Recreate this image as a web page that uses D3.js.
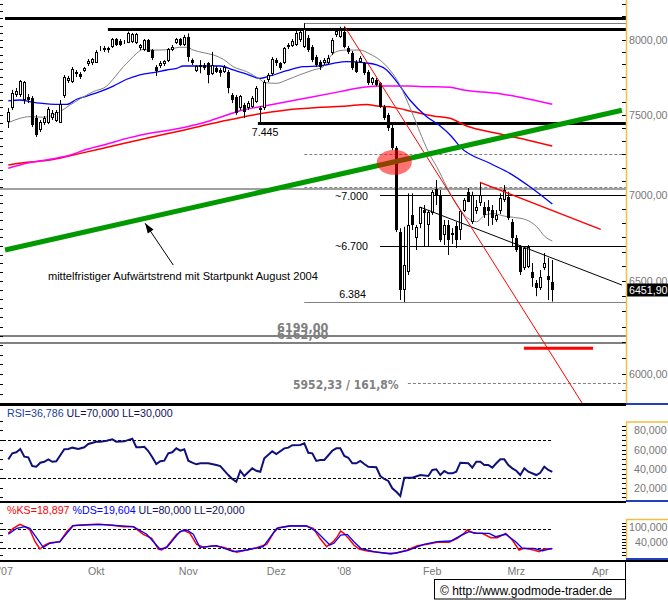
<!DOCTYPE html>
<html><head><meta charset="utf-8">
<script src="https://cdn.jsdelivr.net/npm/d3@7/dist/d3.min.js"></script>
<style>html,body{margin:0;padding:0;background:#fff;} svg{display:block;font-family:"Liberation Sans",Arial,sans-serif;}</style>
</head><body>
<svg id="chart" width="668" height="600"></svg>
<script>
// ---------------- DATA ----------------
// daily candles, index 0 = 30 Aug 2007 ... 136 = 14 Mar 2008
const open = [7456,7545,7630,7630,7597,7619,7610,7480,7403,7448,
7450,7480,7462,7448,7623,7724,7718,7769,7769,7791,
7836,7841,7845,7936,7947,7931,7950,8005,7995,7993,
7981,7988,7977,7943,7931,8000,7931,7818,7823,7836,
7858,7931,7981,8005,7966,8023,7863,7789,7818,7829,
7841,7769,7807,7796,7785,7785,7630,7619,7543,7565,
7545,7554,7586,7545,7543,7729,7769,7863,7841,7845,
7950,7959,7966,8000,7954,8012,7954,7886,7852,7841,
7845,7909,8035,8023,8058,7945,7913,7852,7852,7841,
7785,7707,7729,7707,7554,7500,7416,7288,6780,6450,
6552,6881,6746,6828,6910,6822,6890,7036,7000,6763,
6822,6775,6816,6792,6904,7020,6840,6904,6952,6930,
6930,6910,6851,6904,6970,6990,6841,6746,6695,6573,
6581,6552,6488,6459,6571,6528,6495];
const high = [7545,7663,7676,7729,7722,7636,7623,7500,7467,7493,
7552,7532,7532,7597,7762,7756,7816,7796,7782,7816,
7870,7877,7931,7959,7959,7954,8014,8014,8007,8000,
8058,8049,8049,7972,8007,8007,7938,7829,7856,7863,
7945,7966,8014,8014,8035,8046,7874,7829,7863,7843,
7849,7919,7823,7809,7829,7796,7643,7630,7630,7578,
7591,7623,7689,7558,7729,7776,7883,7877,7849,7952,
7979,8007,8069,8076,8117,8035,7966,7898,7863,7877,
7898,8014,8076,8092,8092,7959,7924,7863,7890,7849,
7796,7749,7742,7716,7565,7513,7435,7302,6803,6811,
7010,7010,6822,6928,6940,6910,7030,7091,7030,6851,
6851,6803,6840,6910,6982,7042,7020,6970,7080,6958,
6970,6940,6910,7010,7060,7020,6857,6763,6705,6699,
6705,6602,6506,6562,6659,6630,6619];
const low = [7416,7532,7617,7617,7571,7577,7422,7359,7390,7435,
7441,7467,7454,7448,7610,7709,7709,7749,7736,7782,
7823,7829,7843,7924,7918,7913,7945,7959,7959,7972,
7979,7979,7972,7931,7924,7918,7863,7756,7809,7823,
7849,7924,7972,7959,7959,7852,7829,7782,7774,7796,
7707,7762,7776,7751,7776,7641,7577,7500,7532,7480,
7532,7545,7578,7445,7532,7716,7756,7823,7796,7836,
7938,7952,7959,7986,7945,7918,7849,7816,7796,7829,
7836,7898,8021,8014,7943,7904,7796,7776,7843,7762,
7696,7696,7689,7545,7467,7397,7277,6780,6395,6384,
6534,6792,6676,6803,6694,6694,6881,6940,6722,6705,
6648,6711,6688,6734,6898,6958,6828,6887,6934,6863,
6816,6822,6840,6887,6958,6851,6695,6665,6534,6562,
6573,6468,6416,6450,6562,6395,6386];
const close = [7521,7643,7658,7724,7716,7597,7435,7372,7456,7480,
7539,7513,7521,7571,7747,7740,7801,7785,7751,7807,
7858,7868,7919,7947,7931,7943,8005,7966,7966,7986,
8051,8040,8040,7966,8000,7919,7874,7791,7845,7856,
7936,7954,8005,7966,8019,7886,7841,7823,7829,7807,
7762,7829,7785,7774,7818,7674,7597,7511,7623,7521,
7578,7612,7678,7532,7718,7762,7868,7841,7807,7943,
7966,7995,8046,8058,8074,7931,7863,7829,7818,7863,
7874,8000,8064,8069,7954,7918,7807,7785,7874,7774,
7707,7740,7696,7554,7478,7414,7290,6792,6450,6591,
6822,6822,6810,6926,6893,6898,7020,7000,6734,6822,
6734,6763,6734,6904,6970,6960,7000,6930,7000,6881,
6904,6863,6881,6980,7030,6861,6744,6676,6552,6688,
6695,6515,6459,6524,6600,6506,6452];
const lastPrice = "6451,90";

// moving averages: [index, value]
const maGray = [[0,7450],[2.9,7478],[5.4,7489],[8.75,7485],[11.25,7500],[12.9,7521],[15.4,7564],[17.9,7604],[21.25,7652],[24.6,7689],[26.7,7751],[28.75,7818],[30.4,7863],[32.1,7909],[33.75,7936],[35.4,7931],[37.9,7931],[40.4,7936],[42.9,7950],[44.6,7950],[46.25,7931],[48.75,7913],[51.25,7898],[53.75,7868],[56.25,7818],[59.6,7785],[62.9,7734],[64.2,7711],[67.1,7707],[69.6,7729],[72.9,7764],[76.25,7796],[78.75,7818],[80.85,7898],[82.9,7927],[84.6,7931],[87.9,7931],[90.4,7904],[92.9,7863],[95.4,7796],[97.9,7696],[99.6,7597],[101.7,7467],[103.35,7361],[105.4,7246],[107.1,7173],[109.6,7050],[112.1,6940],[114.6,6867],[117.1,6841],[119.2,6881],[121.25,6889],[124.2,6873],[126.25,6867],[129.6,6851],[132.1,6812],[134.2,6753],[136,6728]];
const maBlue = [[0,7592],[2.9,7597],[5.4,7586],[7.9,7576],[10.4,7570],[12.9,7568],[14.6,7568],[17.1,7602],[19.6,7623],[22.9,7652],[26.25,7689],[29.6,7734],[32.9,7764],[36.25,7778],[39.6,7796],[42.1,7807],[43.75,7823],[47.9,7823],[52.9,7823],[56.25,7796],[59.6,7769],[62.9,7740],[65.4,7756],[69.6,7791],[73.75,7818],[77.9,7823],[81.25,7841],[84.6,7852],[88.75,7845],[92.1,7831],[94.6,7796],[97.1,7718],[100.4,7597],[104.6,7489],[107.9,7430],[110.7,7365],[112.9,7298],[120.4,7194],[125.4,7132],[130.4,7050],[136,6946]];
const maMagenta = [[0,7163],[4.6,7194],[10.4,7219],[14.6,7239],[19.6,7281],[25.4,7319],[28.75,7344],[35.4,7382],[42.9,7414],[49.6,7456],[55.4,7506],[57.9,7527],[62.9,7553],[69.6,7586],[76.25,7619],[82.9,7652],[88.75,7681],[93.75,7689],[99.6,7689],[104.6,7685],[110.4,7681],[113.75,7663],[122.1,7641],[127.9,7615],[136,7569]];
const maRed = [[0,7183],[4.6,7200],[10.4,7214],[16.25,7246],[22.9,7283],[29.6,7323],[35.4,7356],[42.9,7397],[52.9,7456],[61.25,7500],[69.6,7532],[77.9,7549],[84.6,7558],[89.6,7568],[92.1,7558],[96.25,7549],[101.25,7521],[106.25,7493],[110.4,7478],[114.6,7429],[122.1,7382],[129.7,7340],[136,7302]];

// RSI [index, value]
const rsi = [[0,49.8],[1,56.1],[2,57.2],[3,60.6],[4,52.6],[5,51.9],[6,42.8],[7,42.1],[8,46.3],[9,47.3],[10,49.8],[11,47.3],[12,47.8],[14,60.3],[15,60.6],[16,62.0],[17.5,60.6],[19,62.4],[20,65.8],[22,68.2],[23,68.2],[24.6,69.3],[26,70.7],[27,68.2],[29,68.6],[31,71.4],[32,62.4],[33,62.4],[34,63.0],[35,58.5],[36,51.9],[37,44.9],[38,47.8],[39,48.4],[40,56.1],[41,57.2],[42,61.3],[43,58.8],[44,60.3],[45,48.4],[46,46.3],[47,44.6],[48,45.7],[50,45.7],[52,43.9],[53,42.8],[55,33.4],[56,29.3],[57,26.4],[58,37.9],[59,32.4],[61,40.4],[62,37.9],[63,36.9],[64,50.9],[66,58.2],[67,55.4],[69,61.3],[70,62.0],[71,64.5],[73,64.8],[74,66.6],[75,56.7],[76,56.1],[77,48.1],[78,49.1],[79,49.1],[81,58.8],[82,61.3],[83,61.3],[84,53.3],[85,51.5],[86,45.7],[87,45.7],[88,48.1],[89,44.9],[90,42.1],[92,41.5],[93,32.4],[94,29.3],[95,27.2],[96,19.6],[97,16.0],[98,11.5],[99,30.6],[101,30.6],[103,33.4],[105,32.4],[106,38.7],[107,39.4],[108,33.4],[109,37.6],[110,35.2],[111,35.2],[112,36.9],[113,46.3],[115,45.7],[116,41.1],[117,47.3],[118,47.3],[119,43.9],[120,43.9],[121,41.1],[122,45.7],[123,49.8],[124,49.8],[125,43.9],[126,40.4],[127,37.9],[128,33.4],[129,40.4],[130,36.9],[132,33.4],[133,35.8],[134,42.1],[135,38.7],[136,36.8]];
const rsiText = "RSI=36,786", rsiLimits = " UL=70,000 LL=30,000";

// Slow stochastic %K and %D [index, value]
const stochK = [[0,66.6],[1.25,82.2],[2.9,94.6],[4.2,87.1],[5.4,76.9],[6.7,40.5],[7.9,17.8],[9.2,30.3],[10.4,37.4],[12.9,40.5],[14.6,71.6],[16.1,90.3],[17.9,92.4],[22.1,94.6],[25.4,92.4],[28.75,87.1],[31.25,87.1],[33.75,63.5],[35.85,51.1],[37.5,17.8],[38.35,14.7],[39.6,25.0],[42.1,63.5],[43.75,76.9],[45.4,66.6],[47.1,32.4],[48.75,23.1],[51.25,28.1],[53.75,23.1],[57.1,7.6],[59.6,14.7],[62.1,21.9],[64.6,32.4],[66.25,66.6],[67.5,84.0],[70.4,90.3],[74.2,90.3],[76.25,82.2],[77.9,51.1],[79.6,25.0],[81.25,40.5],[82.25,56.1],[83.1,73.8],[83.9,66.6],[85.2,48.9],[86.4,30.3],[87.7,17.8],[89.75,11.6],[92.25,7.6],[94.75,4.5],[96.85,4.5],[99.75,14.7],[102.25,28.1],[104.75,32.4],[107.25,38.7],[110.2,38.7],[112.25,51.1],[113.9,66.6],[114.75,76.9],[116.4,66.6],[118.5,66.6],[120.6,53.0],[122.25,53.0],[124.35,66.6],[126,45.8],[127.7,14.7],[128.9,20.0],[131.4,14.7],[132.7,9.4],[133.9,17.8],[136,18.9]];
const stochD = [[0,63.5],[2.1,82.2],[4.2,87.1],[5.4,82.2],[8.75,23.1],[10.4,35.5],[12.9,40.5],[16.25,90.3],[22.9,94.6],[31.25,87.1],[34.6,63.5],[37.9,17.8],[39.6,21.9],[42.9,71.6],[44.6,76.9],[46.25,63.5],[47.9,23.1],[52.1,28.1],[56.25,9.4],[59.6,14.7],[63.75,25.0],[67.1,82.2],[70.4,89.3],[74.6,89.3],[77.1,71.6],[80.4,30.3],[81.4,35.5],[83.1,61.3],[84.75,63.5],[86.4,40.5],[88.1,20.0],[91.4,9.4],[95.6,2.3],[99.75,12.5],[103.9,32.4],[107.25,40.5],[110.6,42.7],[113.1,59.2],[115.2,71.6],[117.25,66.6],[120.2,66.6],[121.85,56.1],[124.35,63.5],[126.85,40.5],[128.5,20.0],[131.4,20.0],[133.5,12.5],[136,19.6]];
const stochKText = "%KS=18,897", stochDText = " %DS=19,604", stochLimits = " UL=80,000 LL=20,000";

// x axis month labels: [label, trading-day index]
const monthLabels = [["'07",-0.6],["Okt",22],["Nov",45],["Dez",67],["'08",84],["Feb",106],["Mrz",127],["Apr",148]];
const priceTicks = [8000,7500,7000,6500,6000];
const rsiTicks = [80,60,40,20];

// drawn analysis: trend lines [index, price]
const greenTrend = [[-0.8,6676],[153.4,7530]];
const redSteep = [[84,8097],[143.5,5850]];
const redFan = [[117.9,7077],[148.1,6796]];
const blackDown = [[102.9,6928],[153.4,6478]];
const redTarget = {from:128.9, to:146.2, price:6135};
// horizontal levels
const thickBlackLevels = [{p:8152, from:-0.8},{p:8076, from:24.9},{p:7445, from:62.4}];
const thinBlackLevels = [{p:7000, from:92.9, label:"~7.000"},{p:6700, from:92.9, label:"~6.700"}];
const fibSolid = [{p:8117, from:74},{p:6384, from:74}];
const fibDashed = [{p:7455, from:74},{p:7250.5, from:74},{p:7046, from:74},{p:5952.33, from:99.9}];
const grayFull = [{p:7036, w:1.3}];
const supportLevels = [{p:6199, label:"6199,00"},{p:6162, label:"6162,00"}];
const annotText = "mittelfristiger Aufwärtstrend mit Startpunkt August 2004";
const fibText = "5952,33 / 161,8%";

// ---------------- DRAW ----------------
const svg = d3.select("#chart");
const PR = 626;              // right edge of plots
const MAIN_B = 404;
const FS = 10.67;
const GRAY = "#808080";
const x = d3.scaleLinear().domain([0,136]).range([8.3,552.3]);
const y = d3.scaleLog().domain([6000,8000]).range([374,40]);
const yR = d3.scaleLinear().domain([30,70]).range([478.3,440]);
const yS = d3.scaleLinear().domain([20,80]).range([548.3,529]);
const cr = v => Math.round(v)+0.5;

svg.append("rect").attr("width",668).attr("height",600).attr("fill","#fff");
const defs = svg.append("defs");
defs.append("clipPath").attr("id","cMain").append("rect").attr("x",0).attr("y",0).attr("width",PR).attr("height",MAIN_B);
defs.append("clipPath").attr("id","cRsi").append("rect").attr("x",0).attr("y",406).attr("width",PR).attr("height",95);
defs.append("clipPath").attr("id","cSto").append("rect").attr("x",0).attr("y",503).attr("width",PR).attr("height",56);

const main = svg.append("g").attr("clip-path","url(#cMain)");

function hline(g, p, x0, x1, stroke, w, dash){
  const yy = w%2===1 ? cr(y(p)) : Math.round(y(p));
  const l = g.append("line").attr("x1",x0).attr("x2",x1).attr("y1",yy).attr("y2",yy)
    .attr("stroke",stroke).attr("stroke-width",w);
  if(dash) l.attr("stroke-dasharray",dash);
  return l;
}
grayFull.forEach(d=>hline(main,d.p,0,PR,GRAY,d.w));
supportLevels.forEach(d=>hline(main,d.p,0,PR,GRAY,2));
fibSolid.forEach(d=>hline(main,d.p,x(d.from),PR,GRAY,1));
fibDashed.forEach(d=>hline(main,d.p,x(d.from),PR,GRAY,1,"3,2"));
thickBlackLevels.forEach(d=>hline(main,d.p,x(d.from),PR,"#000",3));
thinBlackLevels.forEach(d=>hline(main,d.p,x(d.from),PR,"#000",1));

// moving averages
const maLine = d3.line().x(d=>x(d[0])).y(d=>y(d[1])).curve(d3.curveMonotoneX);
[[maRed,"#ff0000",1.5],[maMagenta,"#ff00ff",1.5],[maBlue,"#0000ff",1.3],[maGray,"#808080",1]].forEach(([d,c,w])=>{
  main.append("path").datum(d).attr("d",maLine).attr("fill","none").attr("stroke",c).attr("stroke-width",w);
});

// candles
const idx = d3.range(close.length);
const cg = main.append("g");
idx.forEach(i=>{
  const cx = Math.round(x(i));
  cg.append("line").attr("x1",cx+0.5).attr("x2",cx+0.5).attr("y1",y(high[i])).attr("y2",y(low[i]))
    .attr("stroke","#000").attr("stroke-width",1);
  const top = Math.round(y(Math.max(open[i],close[i])));
  const bot = Math.max(top+1, Math.round(y(Math.min(open[i],close[i]))));
  const up = close[i] >= open[i];
  cg.append("rect").attr("x",cx-1+0.5).attr("y",top+0.5).attr("width",2).attr("height",Math.max(0,bot-top-1))
    .attr("fill",up?"#fff":"#000").attr("stroke","#000").attr("stroke-width",1);
});

// trend lines
const tl = d3.line().x(d=>x(d[0])).y(d=>y(d[1]));
main.append("path").datum(blackDown).attr("d",tl).attr("stroke","#000").attr("stroke-width",1).attr("fill","none");
main.append("path").datum(redSteep).attr("d",tl).attr("stroke","#ff0000").attr("stroke-width",1).attr("fill","none");
main.append("path").datum(redFan).attr("d",tl).attr("stroke","#ff0000").attr("stroke-width",1.5).attr("fill","none");
main.append("line").attr("x1",x(redTarget.from)).attr("x2",x(redTarget.to)).attr("y1",y(redTarget.price)).attr("y2",y(redTarget.price))
  .attr("stroke","#ff0000").attr("stroke-width",3);
main.append("path").datum(greenTrend).attr("d",tl).attr("stroke","#009900").attr("stroke-width",5).attr("fill","none");

main.append("ellipse").attr("cx",x(96.5)).attr("cy",y(7200)).attr("rx",17.5).attr("ry",12.5)
  .attr("fill","#ff0000").attr("opacity",0.55);

// arrow annotation
const tip = [x(34.2), y(6832)], tail = [x(41.25), y(6590)];
main.append("line").attr("x1",tail[0]).attr("y1",tail[1]).attr("x2",tip[0]).attr("y2",tip[1]).attr("stroke","#000").attr("stroke-width",1);
{
  const ang = Math.atan2(tail[1]-tip[1], tail[0]-tip[0]);
  const L=10, Wd=3.5;
  const bx = tip[0]+L*Math.cos(ang), by = tip[1]+L*Math.sin(ang);
  const px = -Math.sin(ang)*Wd, py = Math.cos(ang)*Wd;
  main.append("path").attr("d",`M${tip[0]},${tip[1]}L${bx+px},${by+py}L${bx-px},${by-py}Z`).attr("fill","#000");
}

// texts in main panel
const txt = (g,s,xx,yy,opt={}) => g.append("text").attr("x",xx).attr("y",yy).text(s)
  .attr("font-size",opt.fs||FS).attr("fill",opt.fill||"#000").attr("text-anchor",opt.anchor||"start")
  .attr("font-weight",opt.fw||"normal").attr("font-family",opt.ff||null).attr("font-stretch",opt.fst||null);
txt(main,"7.445",x(64.2),y(7445)+13,{anchor:"middle"});
thinBlackLevels.forEach(d=>txt(main,d.label,x(89.9),y(d.p)+4.5,{anchor:"end"}));
txt(main,"6.384",x(89.4),y(6384)-3.5,{anchor:"end"});
txt(main,annotText,x(9.9),y(6506),{fs:11.1});
const cond = "'DejaVu Sans Condensed','DejaVu Sans',sans-serif";
txt(main,supportLevels[1].label,x(67.2),y(6162)-4.5,{fill:GRAY,fw:"bold",fs:12.5,ff:cond,fst:"condensed"});
txt(main,supportLevels[0].label,x(67.2),y(6199)-4,{fill:GRAY,fw:"bold",fs:12.5,ff:cond,fst:"condensed"});
txt(main,fibText,x(71.2),y(5952.33)+5.5,{fill:GRAY,fw:"bold",fs:12,ff:cond,fst:"condensed"});

// ---------- main right axis ----------
const ax = svg.append("g");
d3.range(5850,8300,50).forEach(p=>{ const yy=cr(y(p)); if(yy>0&&yy<403) ax.append("line").attr("x1",0).attr("x2",3).attr("y1",yy).attr("y2",yy).attr("stroke","#000"); });
d3.range(0,40).map(k=>5500+k*500/6).forEach(p=>{ const yy=cr(y(p)); if(yy>0&&yy<403) ax.append("line").attr("x1",622).attr("x2",626).attr("y1",yy).attr("y2",yy).attr("stroke","#000"); });
priceTicks.forEach(p=>txt(ax, d3.format(".2f")(p).replace(".",","), 629, y(p)+4, {fill:"#777"}));
ax.append("rect").attr("x",627).attr("y",Math.round(y(6451.9))-6.5).attr("width",41).attr("height",13).attr("fill","#000");
txt(ax,lastPrice,629,Math.round(y(6451.9))+4,{fill:"#fff"});
ax.append("line").attr("x1",626.5).attr("x2",626.5).attr("y1",0).attr("y2",403).attr("stroke","#f0c040").attr("stroke-width",1.5);

svg.append("rect").attr("x",0).attr("y",403).attr("width",PR).attr("height",3).attr("fill","#000");
svg.append("rect").attr("x",PR).attr("y",403).attr("width",42).attr("height",2).attr("fill","#2040c0");

// ---------- RSI panel ----------
const rg = svg.append("g");
[70,30].forEach(v=>rg.append("line").attr("x1",3).attr("x2",x(136)).attr("y1",cr(yR(v))).attr("y2",cr(yR(v))).attr("stroke","#000").attr("stroke-dasharray","3,2"));
rg.append("g").attr("clip-path","url(#cRsi)").append("path").datum(rsi)
  .attr("d",d3.line().x(d=>x(d[0])).y(d=>yR(d[1]))).attr("fill","none").attr("stroke","#10107a").attr("stroke-width",2);
const rl = rg.append("text").attr("x",7).attr("y",417).attr("font-size",FS);
rl.append("tspan").attr("fill","#1a3fa0").text(rsiText);
rl.append("tspan").attr("fill","#10105a").text(rsiLimits);
d3.range(0,101,10).forEach(v=>{const yy=cr(yR(v)); if(yy>420&&yy<500) rg.append("line").attr("x1",0).attr("x2",3).attr("y1",yy).attr("y2",yy).attr("stroke","#000");});
rg.append("line").attr("x1",626).attr("x2",668).attr("y1",422).attr("y2",422).attr("stroke","#f0c040").attr("stroke-width",1.5);
rg.append("line").attr("x1",626.5).attr("x2",626.5).attr("y1",422).attr("y2",500).attr("stroke","#f0c040").attr("stroke-width",1.5);
d3.range(0,101,5).forEach(v=>{const yy=cr(yR(v)); if(yy>423&&yy<499) rg.append("line").attr("x1",622).attr("x2",626).attr("y1",yy).attr("y2",yy).attr("stroke","#000");});
rsiTicks.forEach(v=>txt(rg, d3.format(".3f")(v).replace(".",","), 634, yR(v)+4, {fill:"#777"}));

svg.append("rect").attr("x",0).attr("y",501).attr("width",PR).attr("height",2).attr("fill","#000");
svg.append("rect").attr("x",PR).attr("y",500).attr("width",42).attr("height",2).attr("fill","#2040c0");

// ---------- Stochastic panel ----------
const sg = svg.append("g");
[80,20].forEach(v=>sg.append("line").attr("x1",3).attr("x2",x(136)).attr("y1",cr(yS(v))).attr("y2",cr(yS(v))).attr("stroke","#000").attr("stroke-dasharray","3,2"));
const sclip = sg.append("g").attr("clip-path","url(#cSto)");
const sl = d3.line().x(d=>x(d[0])).y(d=>yS(d[1]));
sclip.append("path").datum(stochK).attr("d",sl).attr("fill","none").attr("stroke","#ff0000").attr("stroke-width",1.5);
sclip.append("path").datum(stochD).attr("d",sl).attr("fill","none").attr("stroke","#0000ff").attr("stroke-width",1.3);
const stl = sg.append("text").attr("x",7).attr("y",514).attr("font-size",FS);
stl.append("tspan").attr("fill","#ff0000").text(stochKText);
stl.append("tspan").attr("fill","#0000ff").text(stochDText);
stl.append("tspan").attr("fill","#10105a").text(stochLimits);
d3.range(-20,121,20).forEach(v=>{const yy=cr(yS(v)); if(yy>520&&yy<558) sg.append("line").attr("x1",0).attr("x2",3).attr("y1",yy).attr("y2",yy).attr("stroke","#000");});
sg.append("line").attr("x1",626).attr("x2",668).attr("y1",519.5).attr("y2",519.5).attr("stroke","#f0c040").attr("stroke-width",1.5);
sg.append("line").attr("x1",626.5).attr("x2",626.5).attr("y1",519).attr("y2",558).attr("stroke","#f0c040").attr("stroke-width",1.5);
d3.range(-20,121,10).forEach(v=>{const yy=cr(yS(v)); if(yy>520&&yy<557) sg.append("line").attr("x1",622).attr("x2",626).attr("y1",yy).attr("y2",yy).attr("stroke","#000");});
txt(sg,"100,000",629,531,{fill:"#777"});
txt(sg,"40,000",635,545.5,{fill:"#777"});
svg.append("rect").attr("x",PR).attr("y",558).attr("width",42).attr("height",2).attr("fill","#2040c0");
svg.append("rect").attr("x",0).attr("y",560).attr("width",668).attr("height",2).attr("fill","#000");

// ---------- x axis ----------
const xg = svg.append("g");
monthLabels.forEach(([lab,i])=>txt(xg,lab,x(i),575,{anchor:"middle",fill:"#777"}));
xg.append("line").attr("x1",625.5).attr("x2",625.5).attr("y1",561).attr("y2",599).attr("stroke","#000");
xg.append("rect").attr("x",434.5).attr("y",579.5).attr("width",191).attr("height",19.5).attr("fill","#fff").attr("stroke","#000");
txt(xg,"© http://www.godmode-trader.de",440,595,{fs:12});
</script>
</body></html>
